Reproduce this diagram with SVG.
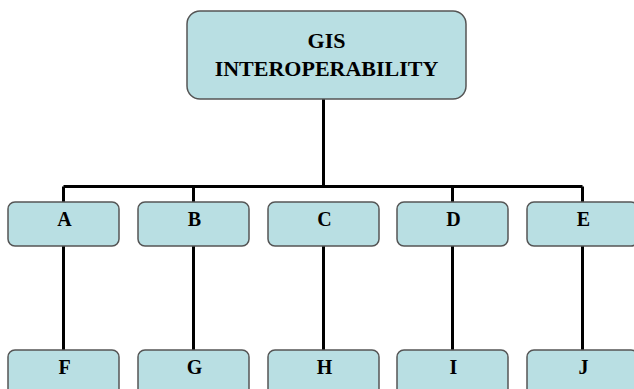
<svg xmlns="http://www.w3.org/2000/svg" width="634" height="389" viewBox="0 0 634 389">
<style>
.box{fill:#b9dfe3;stroke:#555;stroke-width:1.5}
.lbl{font-family:"Liberation Serif","Times New Roman",serif;font-weight:bold;font-size:20px;fill:#000;text-anchor:middle}
.top{font-size:22px}
.conn{stroke:#000;stroke-width:3;fill:none}
</style>
<rect width="634" height="389" fill="#fff"/>
<g id="connectors">
<path class="conn" d="M323.5 99V186.5M63.5 186.5H582.5M63.5 186.5V202M193.5 186.5V202M452.5 186.5V202M582.5 186.5V202"/>
<path class="conn" d="M63.5 246V350M193.5 246V350M323.5 246V350M452.5 246V350M582.5 246V350"/>
</g>
<g id="root"><rect class="box" x="187" y="11" width="279" height="88" rx="13"/>
<text class="lbl top" x="326.5" y="48">GIS</text><text class="lbl top" x="326.5" y="76">INTEROPERABILITY</text></g>
<g id="A"><rect class="box" x="8" y="202" width="111" height="44" rx="7"/><text class="lbl" x="64.5" y="226">A</text></g>
<g id="B"><rect class="box" x="138" y="202" width="111" height="44" rx="7"/><text class="lbl" x="194.5" y="226">B</text></g>
<g id="C"><rect class="box" x="268" y="202" width="111" height="44" rx="7"/><text class="lbl" x="324.5" y="226">C</text></g>
<g id="D"><rect class="box" x="397" y="202" width="111" height="44" rx="7"/><text class="lbl" x="453.5" y="226">D</text></g>
<g id="E"><rect class="box" x="527" y="202" width="111" height="44" rx="7"/><text class="lbl" x="583.5" y="226">E</text></g>
<g id="F"><rect class="box" x="8" y="350" width="111" height="50" rx="7"/><text class="lbl" x="64.5" y="374">F</text></g>
<g id="G"><rect class="box" x="138" y="350" width="111" height="50" rx="7"/><text class="lbl" x="194.5" y="374">G</text></g>
<g id="H"><rect class="box" x="268" y="350" width="111" height="50" rx="7"/><text class="lbl" x="324.5" y="374">H</text></g>
<g id="I"><rect class="box" x="397" y="350" width="111" height="50" rx="7"/><text class="lbl" x="453.5" y="374">I</text></g>
<g id="J"><rect class="box" x="527" y="350" width="111" height="50" rx="7"/><text class="lbl" x="583.5" y="374">J</text></g>
</svg>
